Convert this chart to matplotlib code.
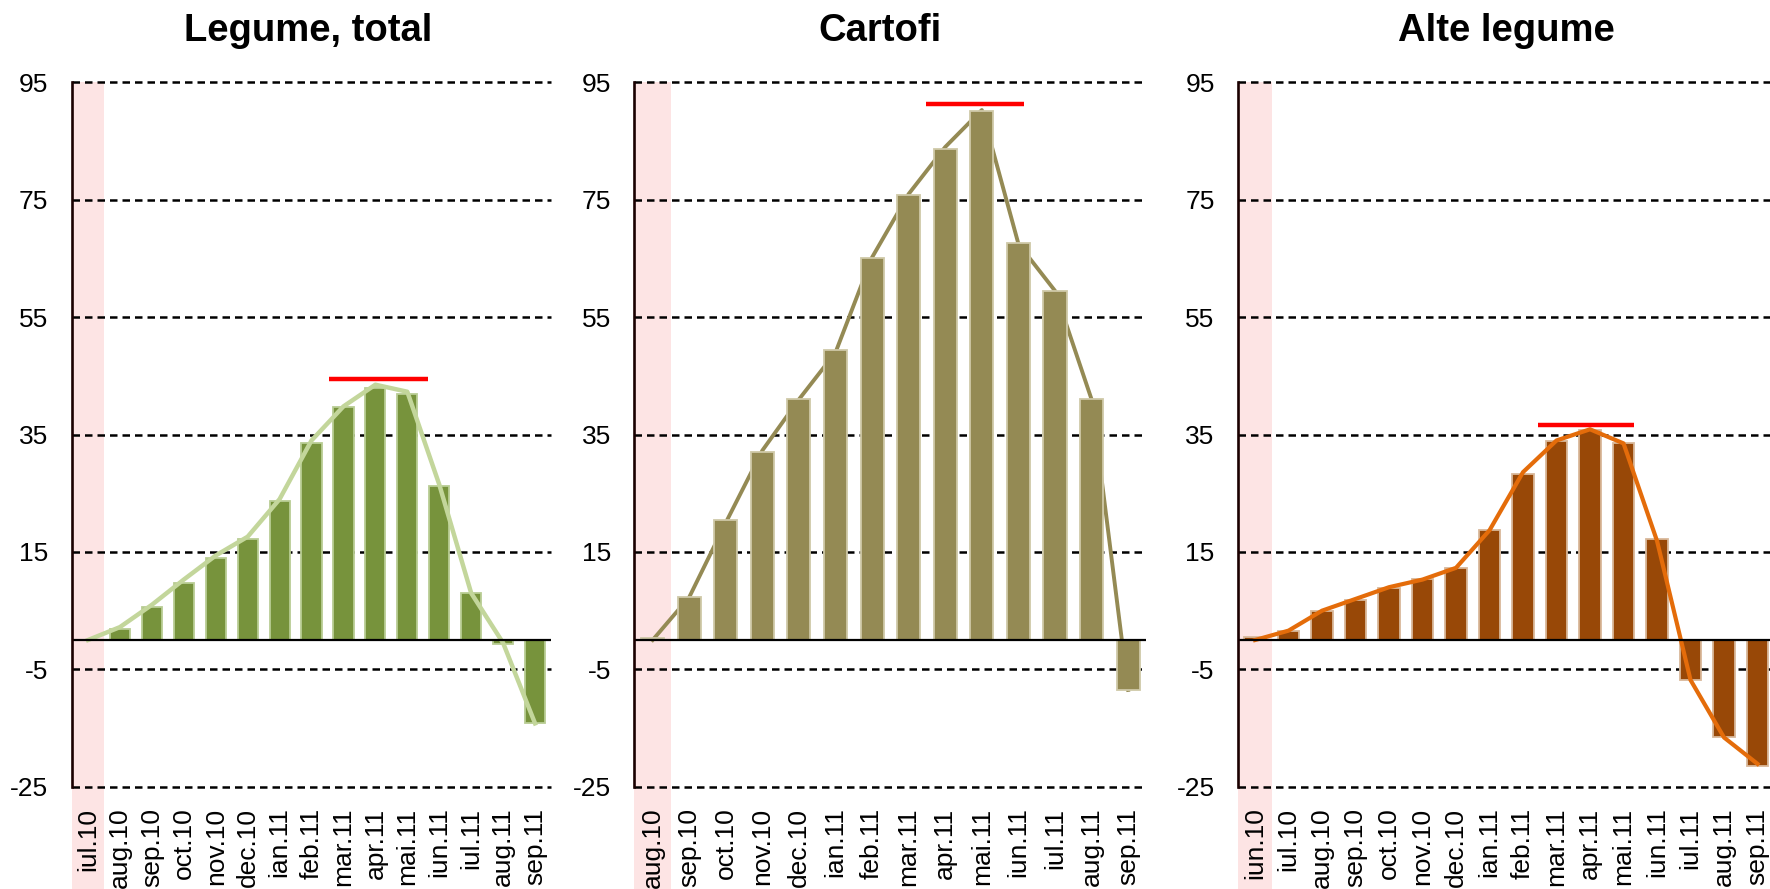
import matplotlib
matplotlib.use('Agg')
import matplotlib.pyplot as plt
from matplotlib.patches import Rectangle

plt.rcParams['font.family'] = ['Liberation Sans', 'DejaVu Sans']

# ---- data ----
legume_months = ['iul.10', 'aug.10', 'sep.10', 'oct.10', 'nov.10', 'dec.10', 'ian.11',
                 'feb.11', 'mar.11', 'apr.11', 'mai.11', 'iun.11', 'iul.11', 'aug.11', 'sep.11']
legume_bars = [0, 1.8, 5.7, 9.7, 13.9, 17.2, 23.7, 33.5, 39.7, 43.0, 42.0, 26.3, 8.0, -0.6, -14.2]
legume_line = [0, 2.2, 6.0, 10.3, 14.4, 17.6, 24.0, 34.0, 39.8, 43.5, 42.3, 26.5, 8.0, -0.5, -14.2]
legume_peak = [7.55, 10.65, 44.4]   # red segment: x from, x to, level

cartofi_months = ['aug.10', 'sep.10', 'oct.10', 'nov.10', 'dec.10', 'ian.11', 'feb.11',
                  'mar.11', 'apr.11', 'mai.11', 'iun.11', 'iul.11', 'aug.11', 'sep.11']
cartofi_bars = [0.3, 7.3, 20.4, 32.0, 41.0, 49.4, 65.0, 75.9, 83.7, 90.1, 67.7, 59.5, 41.0, -8.5]
cartofi_line = [0, 7.3, 20.0, 32.3, 41.0, 49.0, 65.2, 76.0, 84.0, 90.3, 67.5, 59.5, 41.0, -8.5]
cartofi_peak = [7.47, 10.15, 91.3]

alte_months = ['iun.10', 'iul.10', 'aug.10', 'sep.10', 'oct.10', 'nov.10', 'dec.10', 'ian.11',
               'feb.11', 'mar.11', 'apr.11', 'mai.11', 'iun.11', 'iul.11', 'aug.11', 'sep.11']
alte_bars = [0.6, 1.6, 4.9, 6.8, 8.8, 10.4, 12.3, 18.7, 28.3, 33.9, 35.7, 33.5, 17.2, -6.8, -16.5, -21.4]
alte_line = [0, 1.6, 5.0, 7.0, 9.0, 10.3, 12.3, 18.7, 28.6, 34.0, 35.9, 33.5, 16.9, -6.8, -16.6, -21.1]
alte_peak = [8.45, 11.3, 36.7]

y_ticks = [95, 75, 55, 35, 15, -5, -25]


def draw_panel(ax, title, title_x, months, bars, line, peak, bar_color, edge_color,
               line_color, line_lw, line_on_top):
    n = len(months)
    x = list(range(n))
    ax.set_xlim(-0.5, n - 0.5)
    ax.set_ylim(-25, 95)

    # pink marker for the base month, running down behind the label
    ax.add_patch(Rectangle((-0.5, -0.2), 1, 1.2, transform=ax.get_xaxis_transform(),
                           facecolor='#fde4e4', edgecolor='none', clip_on=False, zorder=0))

    ax.hlines(y_ticks, -0.5, n - 0.5, colors='black', linestyles=(0, (3.0, 2.0)),
              linewidth=1.8, zorder=1, clip_on=False)

    ax.bar(x, bars, width=0.63, color=bar_color, edgecolor=edge_color, linewidth=1.3,
           zorder=3)
    ax.plot(x, line, color=line_color, linewidth=line_lw,
            zorder=4 if line_on_top else 2, solid_joinstyle='round')
    ax.axhline(0, color='black', linewidth=1.6, zorder=5)
    ax.hlines(peak[2], peak[0], peak[1], colors='#ff0000', linewidth=3.2, zorder=6)

    for s in ['top', 'right', 'bottom']:
        ax.spines[s].set_visible(False)
    ax.spines['left'].set_color('#1a0000')
    ax.spines['left'].set_linewidth(1.9)
    ax.spines['left'].set_zorder(7)

    ax.set_yticks(y_ticks)
    ax.set_yticklabels([str(v) for v in y_ticks])
    ax.set_xticks(x)
    ax.set_xticklabels(months, rotation=90)
    ax.tick_params(axis='y', length=0, pad=17, labelsize=19)
    ax.tick_params(axis='x', length=0, pad=15, labelsize=19)

    ax.text(title_x, 1.073, title, transform=ax.transAxes, ha='center', va='center',
            fontsize=27.5, fontweight='bold')


fig = plt.figure(figsize=(17.7, 8.89), dpi=100)
ax1 = fig.add_axes([0.0407, 0.115, 0.2706, 0.7923])
ax2 = fig.add_axes([0.3584, 0.115, 0.2893, 0.7923])
ax3 = fig.add_axes([0.6996, 0.115, 0.3028, 0.7923])

draw_panel(ax1, 'Legume, total', 0.493, legume_months, legume_bars, legume_line, legume_peak,
           '#77933c', '#b9cd94', '#c3d69b', 3.2, True)
draw_panel(ax2, 'Cartofi', 0.48, cartofi_months, cartofi_bars, cartofi_line, cartofi_peak,
           '#948a54', '#cfc9a8', '#948a54', 2.8, False)
draw_panel(ax3, 'Alte legume', 0.5, alte_months, alte_bars, alte_line, alte_peak,
           '#984807', '#d9b89a', '#e46c0a', 3.0, True)

fig.savefig('out.png', dpi=100)
